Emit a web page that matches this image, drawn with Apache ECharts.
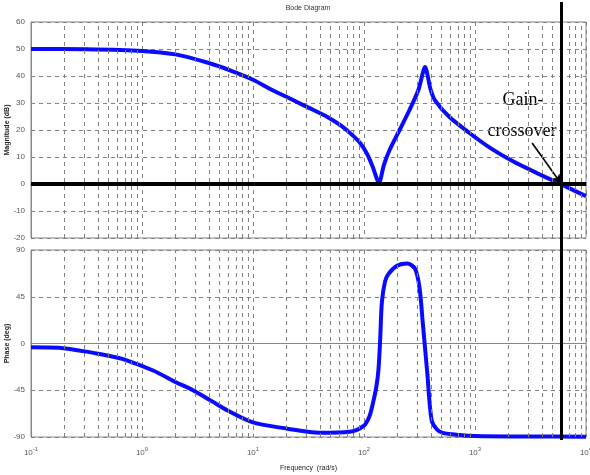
<!DOCTYPE html>
<html>
<head>
<meta charset="utf-8">
<title>Bode Diagram</title>
<script src="https://cdn.jsdelivr.net/npm/echarts@6/dist/echarts.min.js"></script>
<style>
  html, body { margin: 0; padding: 0; background: #fff; }
  #chart { width: 590px; height: 475px; }
</style>
</head>
<body>
<div id="chart"></div>
<script>
// magnitude curve (rad/s, dB)
const magFreq = [0.1, 0.316, 1, 2, 4, 6.3, 10, 14.1, 20, 31.6, 46.8, 63, 79, 93, 107, 120, 136.5,
    151, 170, 209, 257, 309, 355, 398, 436, 589, 891, 1380, 2240, 3630, 5890, 10000];
const magDb = [50, 49.9, 49.3, 48, 44.8, 42, 38.6, 35.3, 32.3, 28.3, 24.8, 21.4, 18, 15, 11, 6.3, 0.4,
    7, 12.6, 20, 27.4, 34.8, 43.3, 35, 31, 24.8, 18.9, 13.3, 8.2, 4, 0, -4.5];

// phase curve (rad/s, deg)
const phaseFreq = [0.1, 0.178, 0.389, 0.5, 0.676, 1.26, 2, 2.88, 4.17, 5.89, 10, 20.4, 39.8, 74.1,
    100, 112, 120, 129, 135, 140, 145, 155, 166, 200, 245, 288, 316, 339, 372, 407, 457, 513,
    724, 1000, 3160, 10000];
const phaseDeg = [-3.5, -4, -9.6, -11.8, -15, -26, -37, -45, -55, -64.5, -76, -82, -86, -85,
    -79, -70, -58, -42, -25, 5, 40, 60, 67, 75, 77, 72, 54, 19, -29, -74, -83, -86,
    -88, -89, -89.5, -89.7];

// gain crossover frequency and arrow start of the annotation
const crossoverFreq = 6000;
const arrowFrom = [3270, 15.2];

// minor log grid positions 2..9 per decade
const minorFreq = [];
for (let d = -1; d <= 3; d++) {
    for (let m = 2; m <= 9; m++) minorFreq.push(m * Math.pow(10, d));
}

const chart = echarts.init(document.getElementById('chart'));

const gridDash = { color: '#808080', type: [4, 4], width: 1 };
const labelColor = '#555';

function minorLines() {
    return {
        silent: true,
        symbol: ['none', 'none'],
        label: { show: false },
        lineStyle: gridDash,
        data: minorFreq.map(f => ({ xAxis: f }))
    };
}

function logAxis(grid, showLabels) {
    return {
        type: 'log',
        logBase: 10,
        gridIndex: grid,
        min: 0.1,
        max: 10000,
        axisLine: { show: true, lineStyle: { color: '#888' } },
        axisTick: { show: false },
        splitLine: { show: true, lineStyle: gridDash },
        axisLabel: showLabels ? {
            margin: 9,
            formatter: v => '{b|10}{s|' + Math.round(Math.log10(v)) + '}',
            rich: {
                b: { fontSize: 8, color: labelColor, fontFamily: 'Arial' },
                s: { fontSize: 6, color: labelColor, fontFamily: 'Arial', padding: [0, 0, 7, 0] }
            }
        } : { show: false },
        name: showLabels ? 'Frequency  (rad/s)' : '',
        nameLocation: 'middle',
        nameGap: 28,
        nameMoveOverlap: false,
        nameTextStyle: { fontSize: 7, color: '#222', fontFamily: 'Arial' }
    };
}

function valueAxis(grid, min, max, interval, name) {
    return {
        type: 'value', gridIndex: grid, min: min, max: max, interval: interval,
        axisLine: { show: true, lineStyle: { color: '#888' } },
        axisTick: { show: false },
        splitLine: { show: true, lineStyle: gridDash },
        axisLabel: { fontSize: 8, color: labelColor, margin: 6, fontFamily: 'Arial' },
        name: name, nameLocation: 'middle', nameGap: 20, nameRotate: 90,
        nameMoveOverlap: false,
        nameTextStyle: { fontSize: 7, color: '#222', fontWeight: 'bold', fontFamily: 'Arial' }
    };
}

const option = {
    animation: false,
    backgroundColor: '#fff',
    grid: [
        { left: 31, top: 22, width: 555, height: 216, show: true, borderColor: '#888', borderWidth: 1,
          containLabel: false, outerBoundsMode: 'none' },
        { left: 31, top: 250, width: 555, height: 187, show: true, borderColor: '#888', borderWidth: 1,
          containLabel: false, outerBoundsMode: 'none' },
        { left: 31, top: 2, width: 555, height: 438, containLabel: false, outerBoundsMode: 'none' }
    ],
    graphic: [
        {
            type: 'text', x: 308, y: 8,
            style: { text: 'Bode Diagram', align: 'center', verticalAlign: 'middle',
                textAlign: 'center', textVerticalAlign: 'middle',
                font: '7px Arial', fill: '#333' }
        },
        {
            type: 'text', x: 523, y: 100,
            style: { text: 'Gain-', align: 'center', verticalAlign: 'middle',
                textAlign: 'center', textVerticalAlign: 'middle',
                font: '18px "Liberation Serif"', fill: '#000' }
        },
        {
            type: 'text', x: 522, y: 131,
            style: { text: 'crossover', align: 'center', verticalAlign: 'middle',
                textAlign: 'center', textVerticalAlign: 'middle',
                font: '18px "Liberation Serif"', fill: '#000' }
        }
    ],
    xAxis: [
        logAxis(0, false),
        logAxis(1, true),
        { type: 'log', logBase: 10, gridIndex: 2, min: 0.1, max: 10000, show: false }
    ],
    yAxis: [
        valueAxis(0, -20, 60, 10, 'Magnitude (dB)'),
        valueAxis(1, -90, 90, 45, 'Phase (deg)'),
        { type: 'value', gridIndex: 2, min: 0, max: 1, show: false }
    ],
    series: [
        // minor grid lines
        { type: 'line', xAxisIndex: 0, yAxisIndex: 0, data: [], z: 1, markLine: minorLines() },
        { type: 'line', xAxisIndex: 1, yAxisIndex: 1, data: [], z: 1, markLine: minorLines() },
        {
            name: 'Magnitude',
            type: 'line',
            xAxisIndex: 0,
            yAxisIndex: 0,
            z: 3,
            symbol: 'none',
            smooth: 0.25,
            data: magFreq.map((f, i) => [f, magDb[i]]),
            lineStyle: { color: '#0a0aff', width: 4 },
            markLine: {
                silent: true,
                z: 4,
                symbol: ['none', 'none'],
                label: { show: false },
                data: [
                    {
                        yAxis: 0,
                        lineStyle: { color: '#000', width: 4, type: 'solid' }
                    },
                    [
                        { coord: arrowFrom, symbol: 'none' },
                        { coord: [crossoverFreq, 0], symbol: 'arrow', symbolSize: [7, 10],
                          lineStyle: { color: '#000', width: 1.6, type: 'solid' } }
                    ]
                ]
            }
        },
        {
            name: 'Phase',
            type: 'line',
            xAxisIndex: 1,
            yAxisIndex: 1,
            z: 3,
            clip: false,
            symbol: 'none',
            smooth: 0.3,
            data: phaseFreq.map((f, i) => [f, phaseDeg[i]]),
            lineStyle: { color: '#0a0aff', width: 4 }
        },
        // gain crossover vertical line spanning both plots
        {
            type: 'line', xAxisIndex: 2, yAxisIndex: 2, data: [], z: 5,
            markLine: {
                silent: true,
                symbol: ['none', 'none'],
                label: { show: false },
                lineStyle: { color: '#000', width: 3, type: 'solid' },
                data: [{ xAxis: crossoverFreq }]
            }
        }
    ]
};

chart.setOption(option);
</script>
</body>
</html>
